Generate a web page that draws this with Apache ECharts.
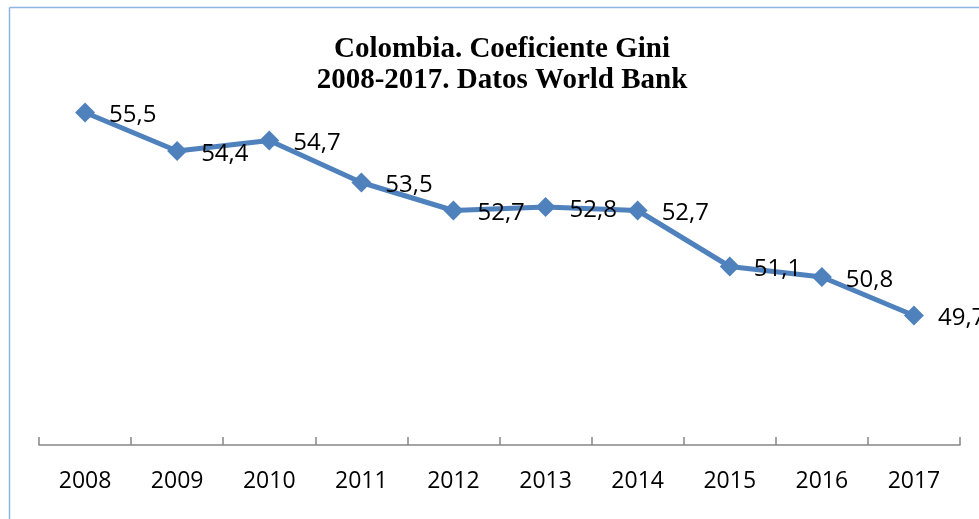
<!DOCTYPE html>
<html>
<head>
<meta charset="utf-8">
<script src="https://cdn.jsdelivr.net/npm/echarts@6/dist/echarts.min.js"></script>
<style>html,body{margin:0;padding:0;background:#fff}#c{width:979px;height:519px}</style>
</head>
<body>
<div id="c"></div>
<script>
const years = ['2008','2009','2010','2011','2012','2013','2014','2015','2016','2017'];
const gini = [55.5, 54.4, 54.7, 53.5, 52.7, 52.8, 52.7, 51.1, 50.8, 49.7];
const titleLines = ['Colombia. Coeficiente Gini', '2008-2017. Datos World Bank'];

const chart = echarts.init(document.getElementById('c'), null, {renderer: 'canvas'});
chart.setOption({
  backgroundColor: '#ffffff',
  animation: false,
  title: {
    text: titleLines.join('\n'),
    left: 497, top: 29, textAlign: 'center',
    textStyle: {fontFamily: '"Liberation Serif", "Times New Roman", serif', fontWeight: 'bold', fontSize: 29, lineHeight: 31, color: '#000'}
  },
  graphic: [
    {type: 'line', shape: {x1: 9.5, y1: 7.5, x2: 979, y2: 7.5}, style: {stroke: '#8eb4e3', lineWidth: 1.5}},
    {type: 'line', shape: {x1: 9.5, y1: 7.5, x2: 9.5, y2: 519}, style: {stroke: '#8eb4e3', lineWidth: 1.5}}
  ],
  grid: {left: 39, right: 19, top: 95, bottom: 74, containLabel: false, outerBoundsMode: 'none'},
  xAxis: {
    type: 'category', data: years, boundaryGap: true,
    axisLine: {show: true, lineStyle: {color: '#868686', width: 1.5}},
    axisTick: {show: true, inside: true, interval: 0, alignWithLabel: false, length: 8, lineStyle: {color: '#868686', width: 1.5}},
    axisLabel: {margin: 25, interval: 0, fontFamily: '"Open Sans", sans-serif', fontSize: 23, color: '#000'}
  },
  yAxis: {
    type: 'value', min: 46, max: 56, show: false, splitLine: {show: false}
  },
  series: [{
    type: 'line', data: gini,
    symbol: 'diamond', symbolSize: 20,
    lineStyle: {color: '#4f81bd', width: 5},
    itemStyle: {color: '#4f81bd'},
    label: {
      show: true, position: 'right', distance: 14, offset: [0, 3],
      fontFamily: '"Open Sans", sans-serif', fontSize: 24, color: '#000',
      formatter: p => String(p.value.toFixed(1)).replace('.', ',')
    }
  }]
});
</script>
</body>
</html>
